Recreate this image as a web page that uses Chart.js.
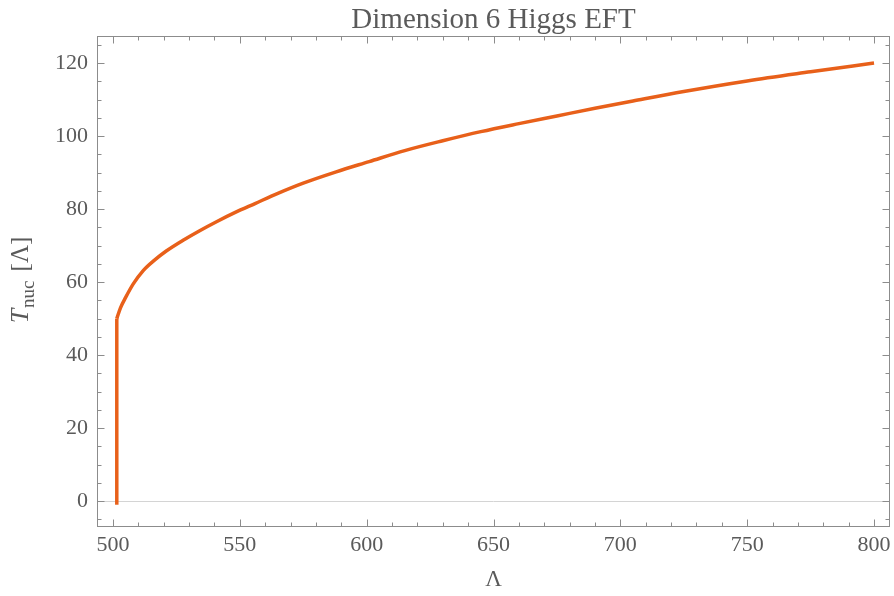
<!DOCTYPE html>
<html>
<head>
<meta charset="utf-8">
<script src="https://cdn.jsdelivr.net/npm/chart.js@4.4.1/dist/chart.umd.min.js"></script>
<style>
html,body{margin:0;padding:0;background:#fff;}
#wrap{width:894px;height:596px;position:relative;}
</style>
</head>
<body>
<div id="wrap"><canvas id="c" width="894" height="596"></canvas></div>
<script>
// ---- data ----
const titleText = "Dimension 6 Higgs EFT";
const xLabel = "Λ";
const yLabelMain = "T";
const yLabelSub = "nuc";
const yLabelRest = "[Λ]";

// vertical jump at the onset
const jumpLambda = [501.5, 501.5];
const jumpT = [-1, 50];

// nucleation temperature curve
const lambdaVals = [501.5, 503, 505, 508, 512, 516, 521, 528, 534, 541, 548, 556, 565, 575, 588, 601, 615, 630, 645, 660, 675, 690, 705, 725, 750, 775, 800];
const tnucVals   = [50, 53, 55.8, 59.5, 63.2, 65.8, 68.5, 71.6, 74.0, 76.6, 79.0, 81.5, 84.3, 87.1, 90.2, 93.0, 96.0, 98.7, 101.2, 103.4, 105.5, 107.6, 109.6, 112.2, 115.1, 117.6, 120];

const xTicks = [500, 550, 600, 650, 700, 750, 800];
const yTicks = [0, 20, 40, 60, 80, 100, 120];
const xMinorStep = 10;
const yMinorStep = 5;
const xRange = [493.7, 806.3];
const yRange = [-7.1, 127.4];

// ---- styles ----
const lineColor = "#e8601a";
const textColor = "#5a5a5a";
const frameColor = "#8c8c8c";
const fontFam = "'Liberation Serif', 'Times New Roman', serif";

const toPts = (xs, ys) => xs.map((x, i) => ({x: x, y: ys[i]}));

const framePlugin = {
  id: 'frame',
  beforeDatasetsDraw(chart) {
    const {ctx, chartArea: a, scales: {x, y}} = chart;
    ctx.save();
    ctx.strokeStyle = "#d4d4d4";
    ctx.lineWidth = 1;
    const y0 = Math.round(y.getPixelForValue(0)) + 0.5;
    ctx.beginPath(); ctx.moveTo(a.left, y0); ctx.lineTo(a.right, y0); ctx.stroke();
    ctx.restore();
  },
  afterDraw(chart) {
    const {ctx, chartArea: a, scales: {x, y}} = chart;
    ctx.save();
    ctx.strokeStyle = frameColor;
    ctx.lineWidth = 1;
    const L = Math.round(a.left) + 0.5, R = Math.round(a.right) - 0.5;
    const T = Math.round(a.top) + 0.5, B = Math.round(a.bottom) - 0.5;
    ctx.strokeRect(L, T, R - L, B - T);
    ctx.beginPath();
    // x ticks
    for (let v = xTicks[0]; v <= xTicks[xTicks.length - 1] + 1e-9; v += xMinorStep) {
      const major = xTicks.some(t => Math.abs(t - v) < 1e-6);
      const len = major ? 7 : 4;
      const px = Math.round(x.getPixelForValue(v)) + 0.5;
      ctx.moveTo(px, B); ctx.lineTo(px, B - len);
      ctx.moveTo(px, T); ctx.lineTo(px, T + len);
    }
    // y ticks
    for (let v = -5; v <= 125 + 1e-9; v += yMinorStep) {
      const major = yTicks.some(t => Math.abs(t - v) < 1e-6);
      const len = major ? 7 : 4;
      const py = Math.round(y.getPixelForValue(v)) + 0.5;
      ctx.moveTo(L, py); ctx.lineTo(L + len, py);
      ctx.moveTo(R, py); ctx.lineTo(R - len, py);
    }
    ctx.stroke();

    // title
    ctx.fillStyle = textColor;
    ctx.textAlign = 'center';
    ctx.textBaseline = 'alphabetic';
    ctx.font = "29px " + fontFam;
    ctx.fillText(titleText, (a.left + a.right) / 2, 28);
    // x axis title
    ctx.font = "23px " + fontFam;
    ctx.fillText(xLabel, (a.left + a.right) / 2, 586);

    // y axis title (rotated with subscript)
    ctx.translate(28, 280);
    ctx.rotate(-Math.PI / 2);
    ctx.textAlign = 'left';
    const fMain = "italic 26px " + fontFam;
    const fSub = "19px " + fontFam;
    const fRest = "25px " + fontFam;
    const gap1 = 1, gap2 = 9;
    ctx.font = fMain; const w1 = ctx.measureText(yLabelMain).width;
    ctx.font = fSub; const w2 = ctx.measureText(yLabelSub).width;
    ctx.font = fRest; const w3 = ctx.measureText(yLabelRest).width;
    let sx = -(w1 + gap1 + w2 + gap2 + w3) / 2;
    ctx.font = fMain; ctx.fillText(yLabelMain, sx, 0); sx += w1 + gap1;
    ctx.font = fSub; ctx.fillText(yLabelSub, sx, 6); sx += w2 + gap2;
    ctx.font = fRest; ctx.fillText(yLabelRest, sx, 0);
    ctx.restore();
  }
};

new Chart(document.getElementById('c'), {
  type: 'scatter',
  data: {
    datasets: [
      {
        data: toPts(jumpLambda, jumpT),
        showLine: true, borderColor: lineColor, borderWidth: 3.5,
        pointRadius: 0, tension: 0, borderCapStyle: 'butt'
      },
      {
        data: toPts(lambdaVals, tnucVals),
        showLine: true, borderColor: lineColor, borderWidth: 3.5,
        pointRadius: 0, cubicInterpolationMode: 'monotone', borderCapStyle: 'butt'
      }
    ]
  },
  options: {
    responsive: false,
    animation: false,
    layout: {padding: {top: 36, right: 4, bottom: 0, left: 0}},
    plugins: {legend: {display: false}, tooltip: {enabled: false}, title: {display: false}},
    scales: {
      x: {
        type: 'linear', min: xRange[0], max: xRange[1],
        grid: {display: false, drawTicks: false},
        border: {display: false},
        afterBuildTicks: s => { s.ticks = xTicks.map(v => ({value: v})); },
        afterFit: s => { s.height = 69; s.paddingRight = 0; s.paddingLeft = 0; },
        ticks: {color: textColor, font: {family: fontFam, size: 22}, padding: 5, maxRotation: 0, autoSkip: false}
      },
      y: {
        type: 'linear', min: yRange[0], max: yRange[1],
        grid: {display: false, drawTicks: false},
        border: {display: false},
        afterBuildTicks: s => { s.ticks = yTicks.map(v => ({value: v})); },
        afterFit: s => { s.width = 97; },
        ticks: {color: textColor, font: {family: fontFam, size: 22}, padding: 9, autoSkip: false}
      }
    }
  },
  plugins: [framePlugin]
});
</script>
</body>
</html>
